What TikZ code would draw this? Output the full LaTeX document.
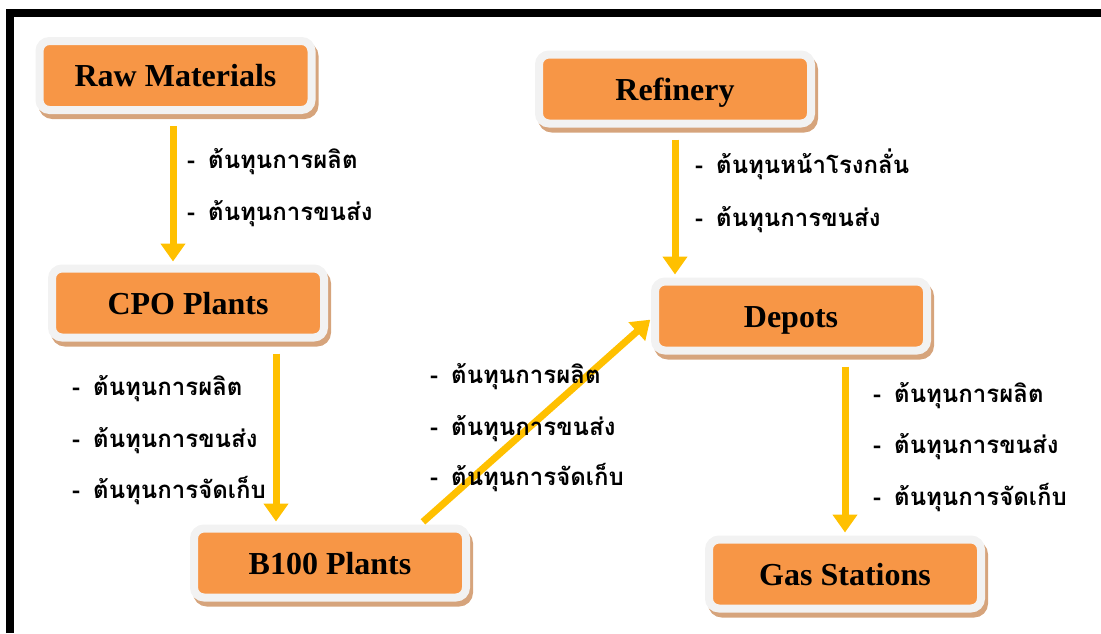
\documentclass[tikz,border=0pt]{standalone}
\usepackage{fontspec}
\setmainfont{Liberation Serif}
\newfontfamily\thaifont[Script=Thai]{Loma}
\usetikzlibrary{arrows.meta,shadows}

\definecolor{boxorange}{HTML}{F79646}
\definecolor{rimgray}{HTML}{F2F2F2}
\definecolor{shadebrown}{HTML}{D6A47C}
\definecolor{flowgold}{HTML}{FFC000}

\tikzset{
  stage/.style={draw=rimgray, line width=8pt, fill=boxorange, rounded corners=10pt,
    minimum width=272pt, minimum height=69pt, inner sep=0pt,
    font=\fontsize{32}{36}\selectfont\bfseries, text height=22pt, text depth=0pt,
    drop shadow={shadow xshift=3pt, shadow yshift=-5pt, fill=shadebrown,
      draw=shadebrown, line width=8pt, opacity=1}},
  flow/.style={draw=flowgold, line width=7pt, -{Triangle[width=24pt,length=18pt]}},
  cost/.style={anchor=base west, inner sep=0pt,
    font=\thaifont\fontsize{24}{28}\selectfont\bfseries}
}

\begin{document}
\begin{tikzpicture}[x=1pt, y=-1pt]

  \useasboundingbox (0,0) rectangle (1101,633);

  % frame
  \draw [line width=7.5pt] (10,633) -- (10,13) -- (1101,13);

  % stages
  \node [stage] (raw)  at (175.5, 75.5) {Raw Materials};
  \node [stage] (cpo)  at (188, 303)    {CPO Plants};
  \node [stage] (b100) at (330, 563)    {B100 Plants};
  \node [stage] (ref)  at (675, 89)     {Refinery};
  \node [stage] (dep)  at (791, 316)    {Depots};
  \node [stage] (gas)  at (845, 574)    {Gas Stations};

  % flows
  \draw [flow, shorten <=12pt, shorten >=3pt]
    ([xshift=-2.5pt]raw.south) -- ([xshift=-2.5pt]raw.south |- cpo.north);
  \draw [flow, shorten <=12pt, shorten >=3pt]
    ([xshift=88pt]cpo.south) -- ([xshift=88pt]cpo.south |- b100.north);
  \draw [flow, shorten <=4pt, shorten >=1pt]
    ([xshift=90pt]b100.north) -- ([yshift=-3pt]dep.west);
  \draw [flow, shorten <=12pt, shorten >=3pt]
    (ref.south) -- (ref.south |- dep.north);
  \draw [flow, shorten <=12pt, shorten >=3pt]
    (gas.north |- dep.south) -- (gas.north);

  % costs
  \node [cost] (rawc1) at (187, 168) {-\hspace{13pt}ต้นทุนการผลิต};
  \node [cost] (rawc2) at (187, 220) {-\hspace{13pt}ต้นทุนการขนส่ง};

  \node [cost] (refc1) at (695, 173) {-\hspace{13pt}ต้นทุนหน้าโรงกลั่น};
  \node [cost] (refc2) at (695, 226) {-\hspace{13pt}ต้นทุนการขนส่ง};

  \node [cost] (cpoc1) at (72, 395) {-\hspace{13pt}ต้นทุนการผลิต};
  \node [cost] (cpoc2) at (72, 447) {-\hspace{13pt}ต้นทุนการขนส่ง};
  \node [cost] (cpoc3) at (72, 498) {-\hspace{13pt}ต้นทุนการจัดเก็บ};

  \node [cost] (b100c1) at (430, 383) {-\hspace{13pt}ต้นทุนการผลิต};
  \node [cost] (b100c2) at (430, 435) {-\hspace{13pt}ต้นทุนการขนส่ง};
  \node [cost] (b100c3) at (430, 485) {-\hspace{13pt}ต้นทุนการจัดเก็บ};

  \node [cost] (depc1) at (873, 402) {-\hspace{13pt}ต้นทุนการผลิต};
  \node [cost] (depc2) at (873, 453) {-\hspace{13pt}ต้นทุนการขนส่ง};
  \node [cost] (depc3) at (873, 505) {-\hspace{13pt}ต้นทุนการจัดเก็บ};

\end{tikzpicture}
\end{document}
